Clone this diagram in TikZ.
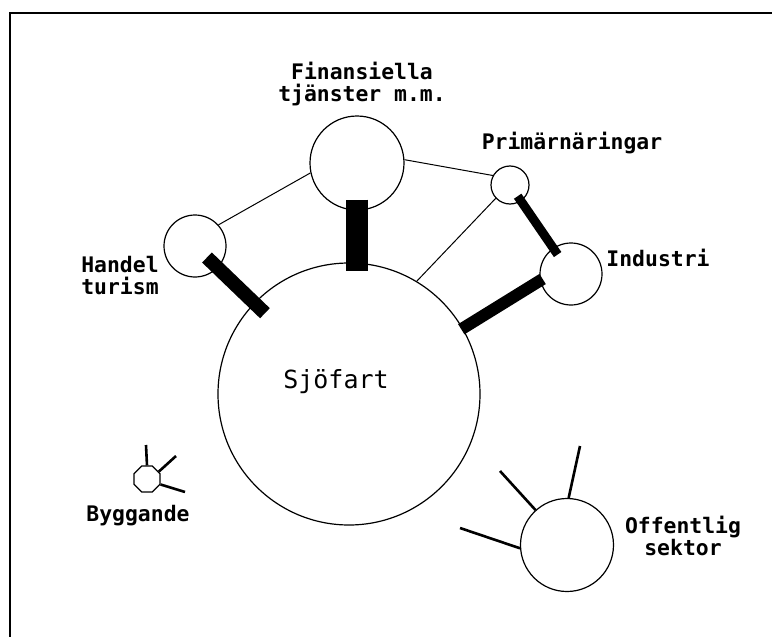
\documentclass[tikz,border=0pt]{standalone}
\usepackage{fontspec}
\setmonofont{DejaVu Sans Mono}
\usetikzlibrary{shapes.geometric,calc}
\begin{document}
\begin{tikzpicture}[x=1pt,y=-1pt,
  circ/.style={circle,draw,line width=1.2pt,inner sep=0pt},
  thinlink/.style={line width=1pt},
  thickbar/.style={line width=#1,line cap=butt},
  spoke/.style={line width=2.6pt},
  lbl/.style={font=\ttfamily\bfseries\fontsize{21.4}{22}\selectfont,align=center,inner sep=0pt}]
\useasboundingbox (0,0) rectangle (772,637);
% frame
\draw[line width=2pt] (10,637) -- (10,13) -- (772,13);
% circles
\node[circ,minimum size=262pt] (sjo) at (349,394) {};
\node[circ,minimum size=94pt] (fin) at (357,163) {};
\node[circ,minimum size=38pt] (prim) at (510,185) {};
\node[circ,minimum size=62pt] (ind) at (571,274) {};
\node[circ,minimum size=62pt] (han) at (195,246) {};
\node[circ,minimum size=93pt] (off) at (567,545) {};
\node[draw,regular polygon,regular polygon sides=8,minimum size=28pt,inner sep=0pt,line width=1.2pt] (byg) at (147,479) {};
% labels
\node[lbl] (finlbl) at (362,84) {Finansiella\\tjänster m.m.};
\node[lbl] (primlbl) at (572,143) {Primärnäringar};
\node[lbl] (indlbl) at (658,258) {Industri};
\node[lbl] (hanlbl) at (120,276) {Handel\\turism};
\node[lbl] (byglbl) at (138,516) {Byggande};
\node[lbl] (offlbl) at (683,536) {Offentlig\\sektor};
\node[lbl,font=\ttfamily\fontsize{25}{28}\selectfont] (sjolbl) at (336,382) {Sjöfart};
% thin links
\draw[thinlink] (han.42) -- (fin.192);
\draw[thinlink] (fin.4) -- (prim.151);
\draw[thinlink] (prim.223) -- (sjo.59);
% thick bars
\draw[thickbar=22pt] ($(fin.south)+(0,-11)$) -- ($(fin.south |- sjo.north)+(0,9)$);
\draw[thickbar=14pt,shorten <=-15pt,shorten >=-15pt] (han) -- (sjo);
\draw[thickbar=9pt,shorten <=-6pt,shorten >=-8pt] (prim) -- (ind);
\draw[thickbar=12pt,shorten <=-3pt,shorten >=-2pt] (ind.192) -- (sjo.30);
% spokes of Offentlig sektor
\coordinate (offA) at (580,446);
\coordinate (offB) at (500,471);
\coordinate (offC) at (460,528);
\draw[spoke] (off.88) -- (offA);
\draw[spoke] (off.132) -- (offB);
\draw[spoke] (off.184) -- (offC);
% spokes of Byggande
\coordinate (bygA) at (146,445);
\coordinate (bygB) at (176,456);
\coordinate (bygC) at (185,492);
\draw[spoke] (byg.90) -- (bygA);
\draw[spoke] (byg.32) -- (bygB);
\draw[spoke] (byg.-22) -- (bygC);
\end{tikzpicture}
\end{document}
